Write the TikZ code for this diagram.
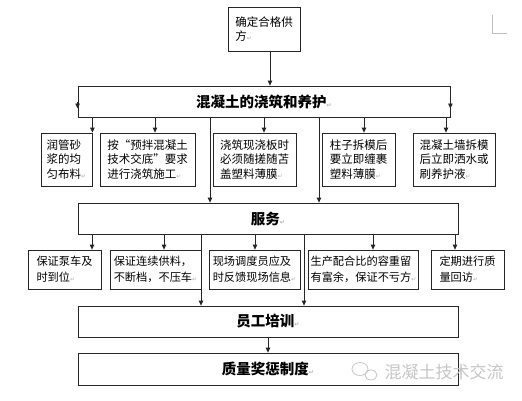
\documentclass[tikz,border=0pt]{standalone}
\usepackage{fontspec}
\setmainfont{Noto Sans CJK SC}
\newfontfamily\symfont{DejaVu Sans}
\usetikzlibrary{arrows.meta}
\newcommand\retmark{{\symfont\fontsize{6}{6}\selectfont\color{gray!60}↵}}
\begin{document}
\begin{tikzpicture}[x=1pt,y=-1pt,
    sbox/.style={draw=black!85,line width=0.8pt,align=left,inner sep=2pt,
        font=\fontsize{11.5}{14.5}\selectfont},
    rbox/.style={sbox,minimum height=39pt,font=\fontsize{11.2}{16}\selectfont},
    tbox/.style={draw=black!85,line width=0.8pt,minimum height=31pt,
        font=\bfseries\fontsize{14.5}{16}\selectfont},
    arr/.style={-{Triangle[length=5pt,width=4.5pt]},line width=0.8pt,draw=black!85}]
    \useasboundingbox[fill=white] (0,0) rectangle (522,400);

    % supplier
    \node[sbox,minimum width=72pt,minimum height=44pt] (supplier) at (264,29) {确定合格供\\方\retmark};

    % pouring and curing
    \node[tbox,minimum width=372pt] (pour) at (264,101.5) {混凝土的浇筑和养护\retmark};
    \node[sbox,minimum width=51pt,minimum height=53pt] (p1) at (66.5,159.5) {润管砂\\浆的均\\匀布料\retmark};
    \node[sbox,minimum width=95pt,minimum height=53pt] (p2) at (147.5,159.5) {按“预拌混凝土\\技术交底”要求\\进行浇筑施工\retmark};
    \node[sbox,minimum width=83pt,minimum height=53pt] (p3) at (254.5,159.5) {浇筑现浇板时\\必须随搓随苫\\盖塑料薄膜\retmark};
    \node[sbox,minimum width=73pt,minimum height=53pt] (p4) at (358.5,159.5) {柱子拆模后\\要立即缠裹\\塑料薄膜\retmark};
    \node[sbox,minimum width=82pt,minimum height=53pt] (p5) at (454,159.5) {混凝土墙拆模\\后立即洒水或\\刷养护液\retmark};

    % service
    \node[tbox,minimum width=380pt] (serv) at (268,218.5) {服务\retmark};
    \node[rbox,minimum width=73pt] (s1) at (64.5,269.5) {保证泵车及\\时到位\retmark};
    \node[rbox,minimum width=91pt] (s2) at (155.5,269.5) {保证连续供料，\\不断档，不压车\retmark};
    \node[rbox,minimum width=91pt] (s3) at (254.5,269.5) {现场调度员应及\\时反馈现场信息\retmark};
    \node[rbox,minimum width=109pt] (s4) at (363.5,269.5) {生产配合比的容重留\\有富余，保证不亏方\retmark};
    \node[rbox,minimum width=73pt] (s5) at (467.5,269.5) {定期进行质\\量回访\retmark};

    % training and quality
    \node[tbox,minimum width=380pt] (train) at (268,321.5) {员工培训\retmark};
    \node[tbox,minimum width=380pt,minimum height=32pt] (qual) at (268,369) {质量奖惩制度\retmark};

    % connectors
    \draw[arr] ([xshift=6pt]supplier.south) -- ([xshift=6pt]supplier.south |- pour.north);
    \draw[arr] (pour.west) -- ([yshift=-7pt]pour.west);
    \draw[arr] (pour.east) -- ([yshift=-7pt]pour.east);
    \draw[arr] (p1.north east |- pour.south) -- (p1.north east);
    \draw[arr] ([xshift=7.5pt]p2.north |- pour.south) -- ([xshift=7.5pt]p2.north);
    \draw[arr] ([xshift=9.5pt]p3.north |- pour.south) -- ([xshift=9.5pt]p3.north);
    \draw[arr] ([xshift=5.5pt]p4.north |- pour.south) -- ([xshift=5.5pt]p4.north);
    \draw[arr] ([xshift=-8pt]p5.north |- pour.south) -- ([xshift=-8pt]p5.north);
    \draw[arr] ([xshift=-54pt]pour.south) -- ([xshift=-54pt]pour.south |- serv.north);
    \draw[arr] ([xshift=55pt]pour.south) -- ([xshift=55pt]pour.south |- serv.north);

    \draw[arr] ([xshift=27.5pt]s1.north |- serv.south) -- ([xshift=27.5pt]s1.north);
    \draw[arr] ([xshift=8.5pt]s2.north |- serv.south) -- ([xshift=8.5pt]s2.north);
    \draw[arr] ([xshift=0.5pt]s3.north |- serv.south) -- ([xshift=0.5pt]s3.north);
    \draw[arr] ([xshift=9.5pt]s4.north |- serv.south) -- ([xshift=9.5pt]s4.north);
    \draw[arr] ([xshift=-12.5pt]s5.north |- serv.south) -- ([xshift=-12.5pt]s5.north);
    \draw[arr] ([xshift=-67pt]serv.south) -- ([xshift=-67pt]serv.south |- train.north);
    \draw[arr] ([xshift=36pt]serv.south) -- ([xshift=36pt]serv.south |- train.north);
    \draw[arr] (train.south) -- (qual.north);

    % page corner mark
    \draw[gray!50,line width=0.6pt] (492,15) -- (492,33) -- (507,33);

    % watermark
    \draw[gray!45,line width=0.8pt] (360,369) ellipse (8pt and 6.5pt);
    \draw[gray!45,line width=0.8pt] (371,375) ellipse (6pt and 5pt);
    \node[text=gray!45,font=\fontsize{17}{17}\selectfont,inner sep=0pt] (mark) at (444,372) {混凝土技术交流};
\end{tikzpicture}
\end{document}
